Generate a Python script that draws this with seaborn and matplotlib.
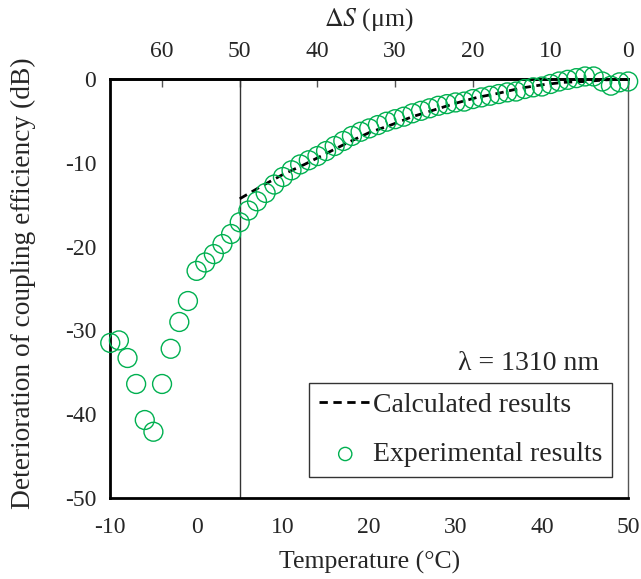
import matplotlib
matplotlib.use("Agg")
import matplotlib.pyplot as plt
import numpy as np
import pandas as pd
import seaborn as sns

# measured points (temperature in deg C, deterioration in dB)
temp_exp = list(range(-10, 51))
db_exp = [-31.5, -31.2, -33.3, -36.4, -40.7, -42.1, -36.4, -32.2, -29.0, -26.5,
          -22.9, -21.9, -20.9, -19.7, -18.5, -17.1, -15.7, -14.6, -13.6, -12.6,
          -11.7, -10.9, -10.2, -9.7, -9.2, -8.6, -8.0, -7.4, -6.8, -6.3,
          -5.9, -5.5, -5.1, -4.8, -4.5, -4.1, -3.8, -3.5, -3.2, -3.0,
          -2.8, -2.7, -2.4, -2.2, -2.0, -1.8, -1.6, -1.5, -1.2, -1.0,
          -0.9, -0.6, -0.3, -0.1, 0.1, 0.3, 0.3, -0.3, -0.8, -0.4, -0.3]

# calculated curve
temp_calc = [5, 7.5, 10, 12.5, 15, 17.5, 20, 22.5, 25, 27.5, 30, 32.5, 35,
             37.5, 40, 42.5, 45, 47.5, 50]
db_calc = [-14.3, -12.8, -11.4, -10.2, -8.9, -7.6, -6.4, -5.5, -4.5, -3.7,
           -2.9, -2.2, -1.7, -1.1, -0.7, -0.4, -0.3, -0.1, 0.0]

x_ticks = [-10, 0, 10, 20, 30, 40, 50]
y_ticks = [0, -10, -20, -30, -40, -50]
ds_ticks = [0, 10, 20, 30, 40, 50, 60]
t_line = 5

exp_df = pd.DataFrame({"T": temp_exp, "dB": db_exp})
calc_df = pd.DataFrame({"T": temp_calc, "dB": db_calc})

sns.set_theme(style="white")
plt.rcParams["font.family"] = ["Liberation Serif", "DejaVu Serif"]
plt.rcParams["mathtext.fontset"] = "stix"
plt.rcParams["axes.unicode_minus"] = False

fig, ax = plt.subplots(figsize=(6.41, 5.79), dpi=100)
fig.subplots_adjust(left=0.172, right=0.98, top=0.8636, bottom=0.14)

ax.axvline(t_line, color="#333333", lw=1.0, zorder=1)

sns.lineplot(data=calc_df, x="T", y="dB", ax=ax, color="black", lw=2,
             label="Calculated results", zorder=3)
ax.lines[-1].set_dashes([3, 2])
sns.scatterplot(data=exp_df, x="T", y="dB", ax=ax, marker="o", s=185,
                facecolor="none", edgecolor="#00B050", linewidth=1.0,
                label="Experimental results", zorder=4, clip_on=False)

ax.set_xlim(-10, 50)
ax.set_ylim(-50, 0)
ax.set_xticks(x_ticks)
ax.set_yticks(y_ticks)
ax.tick_params(axis="x", direction="in", length=7, width=1, color="#555555",
               labelsize=17, pad=14)
ax.tick_params(axis="y", direction="in", length=6, width=1, color="#555555",
               labelsize=17, pad=10, right=False)
ax.set_xlabel("Temperature (°C)", fontsize=18.5, labelpad=9)
ax.set_ylabel("Deterioration of coupling efficiency (dB)", fontsize=19.7)
ax.yaxis.set_label_coords(-0.143, 0.512)

for side in ["left", "bottom", "top"]:
    ax.spines[side].set_color("black")
    ax.spines[side].set_linewidth(2)
ax.spines["right"].set_color("#555555")
ax.spines["right"].set_linewidth(1)

# top axis: displacement
sec = ax.secondary_xaxis("top", functions=(lambda t: (50 - t) * 10 / 9,
                                           lambda s: 50 - s * 9 / 10))
sec.set_xticks(ds_ticks)
sec.tick_params(direction="in", length=6, width=1, color="#555555",
                labelsize=17, pad=12)
sec.spines["top"].set_linewidth(2)
sec.set_xlabel(r"$\mathit{\Delta S}$ (μm)", fontsize=18.5, labelpad=11)

ax.text(0.944, 0.322, "λ = 1310 nm", transform=ax.transAxes, fontsize=20,
        ha="right", va="center")

leg = ax.legend(loc="lower right", bbox_to_anchor=(0.969, 0.05), fontsize=20,
                frameon=True, fancybox=False, handlelength=1.9,
                handletextpad=0.05, borderpad=0.35, labelspacing=0.85,
                borderaxespad=0, markerscale=0.7)
leg.get_frame().set_edgecolor("black")
leg.get_frame().set_linewidth(1)

fig.savefig("out.png", dpi=100)
